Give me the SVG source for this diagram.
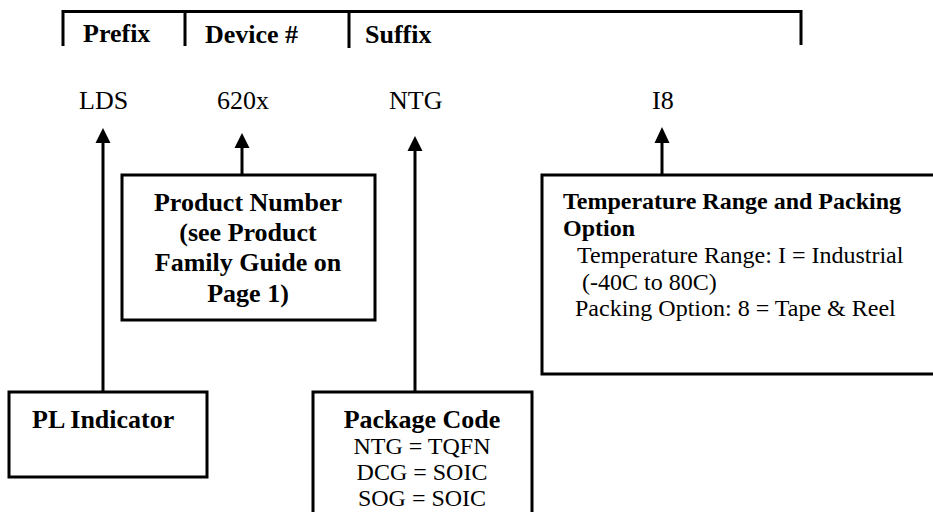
<svg xmlns="http://www.w3.org/2000/svg" width="933" height="512" viewBox="0 0 933 512">
<defs>
<style>
.t{font-family:"Liberation Serif","Times New Roman",serif;fill:#000}
.b{font-weight:bold;font-size:26px}
.r{font-size:26px}
.s{font-size:24px}
.sb{font-size:24px;font-weight:bold}
.box{fill:#fff;stroke:#000;stroke-width:3}
.ln{stroke:#000;stroke-width:3;fill:none}
</style>
</defs>
<rect width="933" height="512" fill="#fff"/>
<g id="header">
<path class="ln" d="M63,46 V11.5 H801 V45 M185,11.5 V46 M349,11.5 V48"/>
<text class="t b" x="83" y="42">Prefix</text>
<text class="t b" x="205" y="43">Device #</text>
<text class="t b" x="365" y="43">Suffix</text>
</g>
<g id="codes">
<text class="t r" x="79" y="109">LDS</text>
<text class="t r" x="217" y="109">620x</text>
<text class="t r" x="389" y="109">NTG</text>
<text class="t r" x="652" y="109">I8</text>
</g>
<g id="connectors">
<line class="ln" x1="103" y1="392" x2="103" y2="143"/>
<polygon points="103,128 95.5,143 110.5,143" fill="#000"/>
<line class="ln" x1="242" y1="175" x2="242" y2="148"/>
<polygon points="242,133 234.5,148 249.5,148" fill="#000"/>
<line class="ln" x1="415" y1="392" x2="415" y2="151"/>
<polygon points="415,136 407.5,151 422.5,151" fill="#000"/>
<line class="ln" x1="662" y1="175" x2="662" y2="143"/>
<polygon points="662,127 654.5,143 669.5,143" fill="#000"/>
</g>
<g id="product">
<rect class="box" x="122" y="175" width="253" height="145"/>
<text class="t b" x="248" y="211" text-anchor="middle">Product Number</text>
<text class="t b" x="248" y="241" text-anchor="middle">(see Product</text>
<text class="t b" x="248" y="271" text-anchor="middle">Family Guide on</text>
<text class="t b" x="248" y="302" text-anchor="middle">Page 1)</text>
</g>
<g id="temperature">
<rect class="box" x="542" y="175" width="400" height="199"/>
<text class="t sb" x="563" y="209">Temperature Range and Packing</text>
<text class="t sb" x="563" y="236">Option</text>
<text class="t s" x="577" y="263">Temperature Range: I = Industrial</text>
<text class="t s" x="582" y="290">(-40C to 80C)</text>
<text class="t s" x="575" y="316">Packing Option: 8 = Tape &amp; Reel</text>
</g>
<g id="pl">
<rect class="box" x="9" y="392" width="198" height="85"/>
<text class="t b" x="32" y="428">PL Indicator</text>
</g>
<g id="package">
<rect class="box" x="313" y="392" width="219" height="140"/>
<text class="t b" x="422" y="428" text-anchor="middle">Package Code</text>
<text class="t s" x="422" y="454" text-anchor="middle">NTG = TQFN</text>
<text class="t s" x="422" y="480" text-anchor="middle">DCG = SOIC</text>
<text class="t s" x="422" y="506" text-anchor="middle">SOG = SOIC</text>
</g>
</svg>
